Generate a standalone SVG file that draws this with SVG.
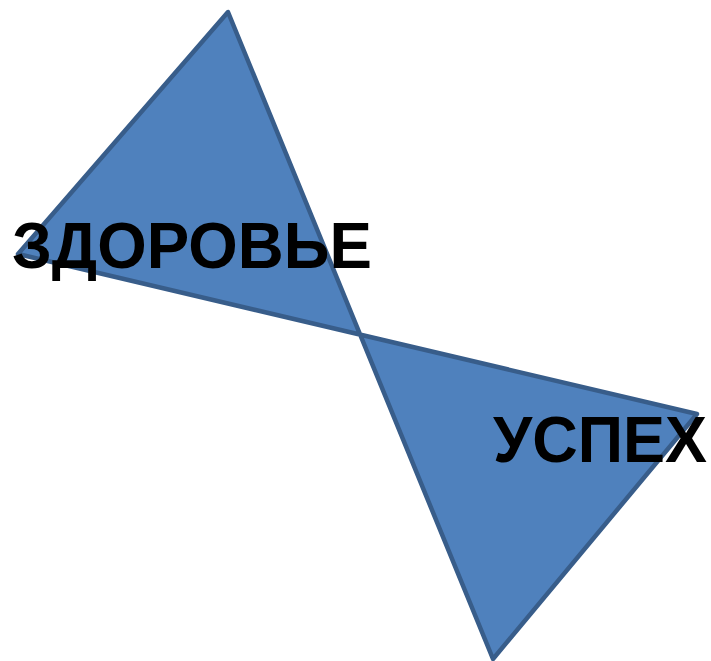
<svg xmlns="http://www.w3.org/2000/svg" width="711" height="661" viewBox="0 0 711 661">
<style>
.lbl{font-family:"Liberation Sans",Arial,sans-serif;font-weight:bold;font-size:64px;fill:#000}
</style>
<rect width="711" height="661" fill="#fff"/>
<g id="bowtie">
<path d="M228,12 L18,254 L697,414 L493,659 Z" fill="#4F81BD" stroke="#385D8A" stroke-width="4.5" stroke-linejoin="round"/>
</g>
<g id="health"><text class="lbl" x="12" y="268" textLength="360" lengthAdjust="spacingAndGlyphs">ЗДОРОВЬЕ</text></g>
<g id="success"><text class="lbl" x="493" y="462" textLength="214" lengthAdjust="spacingAndGlyphs">УСПЕХ</text></g>
</svg>
